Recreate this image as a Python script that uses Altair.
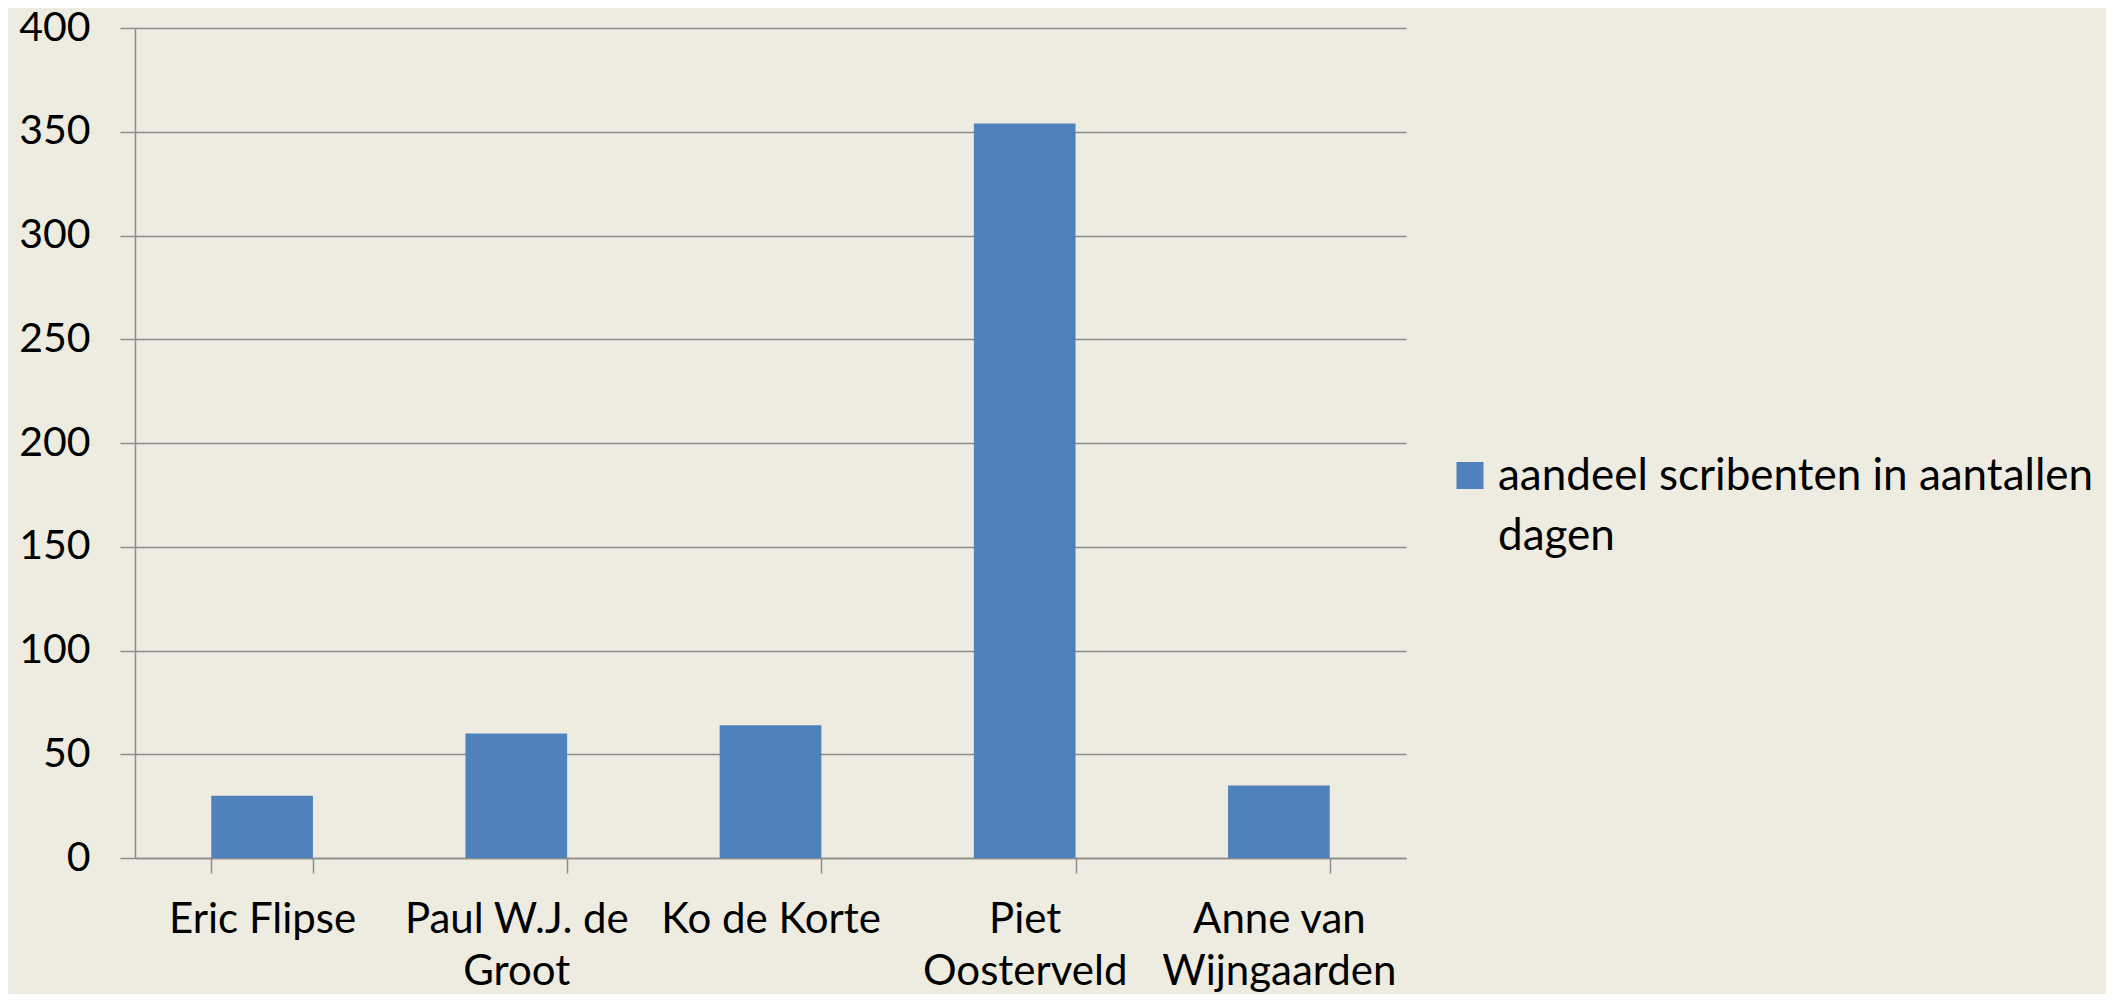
import altair as alt
import pandas as pd

# Data
categories = [
    "Eric Flipse",
    "Paul W.J. de\nGroot",
    "Ko de Korte",
    "Piet\nOosterveld",
    "Anne van\nWijngaarden",
]
values = [30, 60, 64, 354, 35]
series_name = "aandeel scribenten in aantallen\ndagen"
y_ticks = [0, 50, 100, 150, 200, 250, 300, 350, 400]

BG = "#EEECE1"
BAR = "#4F81BD"
GRID = "#8C8C8C"
FONT = "Lato"

df = pd.DataFrame({"name": categories, "value": values, "series": [series_name] * len(categories)})

chart = (
    alt.Chart(df)
    .mark_bar()
    .encode(
        x=alt.X(
            "name:N",
            sort=categories,
            title=None,
            scale=alt.Scale(paddingInner=0.6, paddingOuter=0.3),
            axis=alt.Axis(
                labelAngle=0,
                tickBand="extent",
                ticks=True,
                tickSize=15,
                tickColor=GRID,
                tickWidth=1.5,
                domainColor=GRID,
                domainWidth=1.5,
                labelPadding=26,
                labelFont=FONT,
                labelFontSize=42,
                labelColor="black",
                labelLineHeight=52,
                labelBaseline="top",
                labelLimit=1000,
                labelExpr="split(datum.label, '\\n')",
                grid=False,
            ),
        ),
        y=alt.Y(
            "value:Q",
            title=None,
            scale=alt.Scale(domain=[0, 400], nice=False),
            axis=alt.Axis(
                values=y_ticks,
                grid=True,
                gridColor=GRID,
                gridWidth=1.5,
                tickSize=15,
                tickColor=GRID,
                tickWidth=1.5,
                domainColor=GRID,
                domainWidth=1.5,
                labelPadding=30,
                labelFont=FONT,
                labelFontSize=41,
                labelColor="black",
            ),
        ),
        color=alt.Color(
            "series:N",
            scale=alt.Scale(domain=[series_name], range=[BAR]),
            legend=alt.Legend(
                title=None,
                orient="none",
                legendX=1313,
                legendY=440,
                padding=0,
                symbolType="M-1,-2.074H1V-0.074H-1Z",
                symbolSize=729,
                symbolStrokeWidth=0,
                symbolOpacity=1,
                labelOffset=6,
                labelFont=FONT,
                labelFontSize=44,
                labelColor="black",
                labelBaseline="alphabetic",
                labelLimit=1000,
                labelExpr="split(datum.label, '\\n')",
            ),
        ),
    )
    .properties(
        width=1271,
        height=830,
        autosize=alt.AutoSizeParams(type="none"),
        padding={"left": 127, "top": 20, "right": 700, "bottom": 136},
        background=BG,
    )
    .configure(
        view=alt.ViewConfig(strokeWidth=0),
        style={"guide-label": {"lineHeight": 60}},
    )
)

chart.save("out.html", embed_options={"renderer": "svg", "actions": False})
